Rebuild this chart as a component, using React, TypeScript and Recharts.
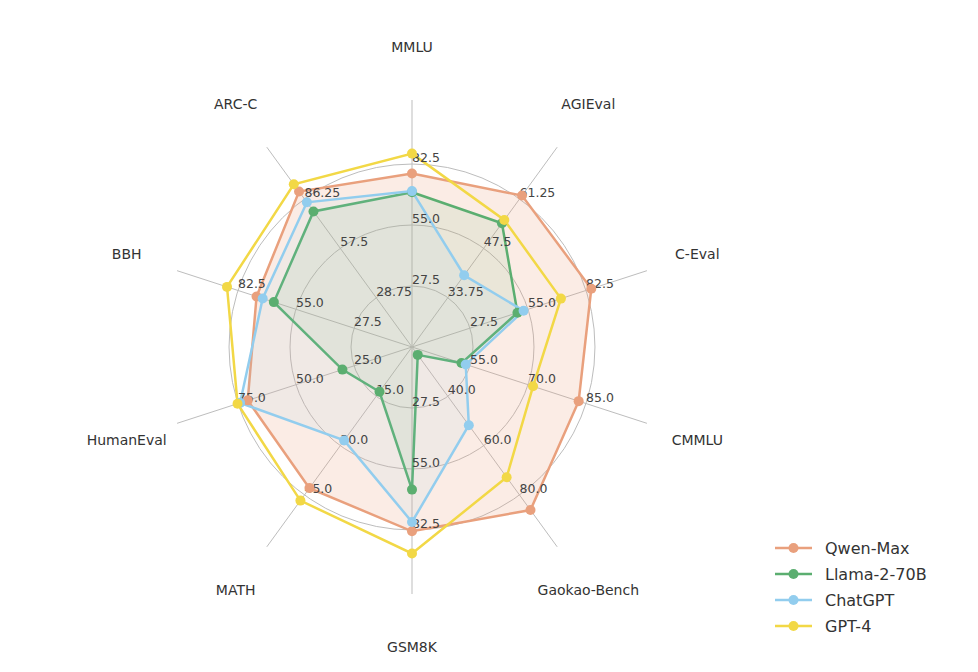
import { RadarChart, Radar, PolarGrid, PolarAngleAxis, PolarRadiusAxis, Legend } from "recharts";

const axes = ["MMLU", "AGIEval", "C-Eval", "CMMLU", "Gaokao-Bench", "GSM8K", "MATH", "HumanEval", "BBH", "ARC-C"];

// each axis has its own scale: value at the centre and value on the outer ring
const axisMin = [0, 20, 0, 40, 20, 0, 0, 0, 0, 0];
const axisMax = [82.5, 61.25, 82.5, 85, 80, 82.5, 45, 75, 82.5, 86.25];
const tickLabels = [
  ["27.5", "55.0", "82.5"],
  ["33.75", "47.5", "61.25"],
  ["27.5", "55.0", "82.5"],
  ["55.0", "70.0", "85.0"],
  ["40.0", "60.0", "80.0"],
  ["27.5", "55.0", "82.5"],
  ["15.0", "30.0", "45.0"],
  ["25.0", "50.0", "75.0"],
  ["27.5", "55.0", "82.5"],
  ["28.75", "57.5", "86.25"],
];

const qwenMax = [78.2, 62.2, 85.0, 83.1, 86.1, 83.1, 42.9, 70.8, 73.7, 90.6];
const llama2 = [69.8, 54.5, 50.0, 52.8, 23.2, 64.3, 13.6, 30.0, 65.5, 79.0];
const chatgpt = [70.3, 40.0, 52.9, 53.9, 51.7, 78.9, 28.4, 74.1, 70.8, 84.3];
const gpt4 = [87.2, 55.4, 70.6, 71.3, 72.8, 93.1, 46.7, 75.2, 87.7, 94.8];

const series = [
  { key: "qwen", name: "Qwen-Max", values: qwenMax, color: "#E9A07D", fillOpacity: 0.2 },
  { key: "llama", name: "Llama-2-70B", values: llama2, color: "#5BAE70", fillOpacity: 0.1 },
  { key: "chatgpt", name: "ChatGPT", values: chatgpt, color: "#92CDEE", fillOpacity: 0.1 },
  { key: "gpt4", name: "GPT-4", values: gpt4, color: "#F2D846", fillOpacity: 0 },
];

// three rings per axis: value -> ring units
const toRing = (v: number, i: number) => (3 * (v - axisMin[i])) / (axisMax[i] - axisMin[i]);

const data = axes.map((axis, i) => {
  const row: Record<string, string | number> = { axis };
  series.forEach((s) => {
    row[s.key] = toRing(s.values[i], i);
  });
  return row;
});

const FONT = "DejaVu Sans, Verdana, sans-serif";
const RADIUS_DOMAIN: [number, number] = [0, 4.05];

function AngleTick(props: any) {
  const { x, y, payload } = props;
  return (
    <text x={x} y={y} textAnchor="middle" dominantBaseline="central" fill="#333" fontSize={14} fontFamily={FONT}>
      {payload.value}
    </text>
  );
}

function makeRingTick(labels: string[]) {
  return (props: any) => {
    const { x, y, payload } = props;
    const label = labels[Math.round(payload.value) - 1];
    if (!label) return <g />;
    return (
      <text x={x} y={y - 2} textAnchor="start" fill="#444" fontSize={12.5} fontFamily={FONT}>
        {label}
      </text>
    );
  };
}

function LegendContent() {
  return (
    <div style={{ fontFamily: FONT, fontSize: 16, color: "#333" }}>
      {series.map((s) => (
        <div key={s.key} style={{ display: "flex", alignItems: "center", height: 26 }}>
          <svg width={50} height={14}>
            <line x1={0} y1={7} x2={37} y2={7} stroke={s.color} strokeWidth={2.5} />
            <circle cx={18.5} cy={7} r={5} fill={s.color} />
          </svg>
          <span>{s.name}</span>
        </div>
      ))}
    </div>
  );
}

export default function App() {
  return (
    <div style={{ width: 962, height: 656, fontFamily: FONT }}>
      <RadarChart
        width={962}
        height={656}
        data={data}
        cx={404}
        cy={339}
        outerRadius={247}
        margin={{ top: 0, right: 0, bottom: 0, left: 0 }}
      >
        <PolarGrid gridType="circle" stroke="#bdbdbd" strokeWidth={1} />
        <PolarAngleAxis dataKey="axis" tickSize={53} tickLine={false} axisLine={false} tick={AngleTick} />
        {axes.map((a, i) => (
          <PolarRadiusAxis
            key={a}
            radiusAxisId={i}
            angle={90 - 36 * i}
            type="number"
            domain={RADIUS_DOMAIN}
            ticks={[1, 2, 3]}
            axisLine={false}
            tickLine={false}
            tick={makeRingTick(tickLabels[i])}
          />
        ))}
        {/* invisible series so that every per-axis radius axis is resolved */}
        {axes.slice(1).map((a, j) => (
          <Radar
            key={"scale-" + a}
            radiusAxisId={j + 1}
            dataKey="qwen"
            stroke="none"
            fill="none"
            dot={false}
            legendType="none"
            isAnimationActive={false}
          />
        ))}
        {series.map((s) => (
          <Radar
            key={s.key}
            name={s.name}
            dataKey={s.key}
            stroke={s.color}
            strokeWidth={2.5}
            fill={s.color}
            fillOpacity={s.fillOpacity}
            dot={{ r: 5, fill: s.color, stroke: s.color, strokeWidth: 0, fillOpacity: 1 }}
            isAnimationActive={false}
          />
        ))}
        <Legend content={LegendContent} wrapperStyle={{ position: "absolute", left: 767, top: 527, width: 200 }} />
      </RadarChart>
    </div>
  );
}
